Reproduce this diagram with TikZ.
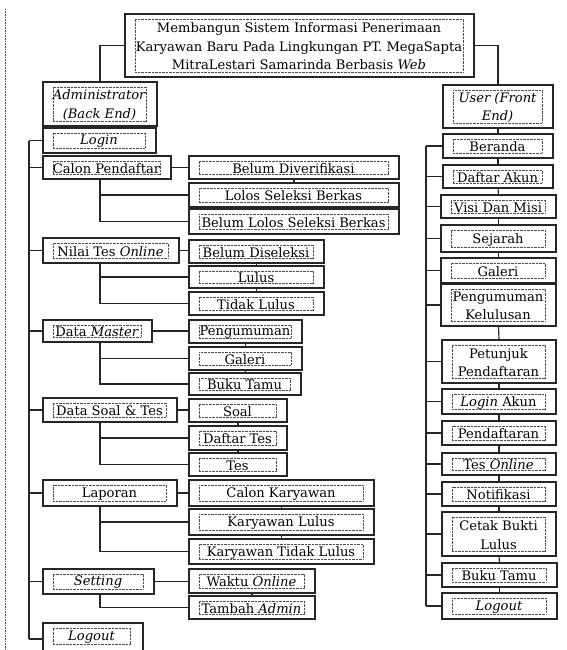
\documentclass[tikz,border=0pt]{standalone}
\usepackage{fontspec}
\setmainfont{DejaVu Serif}
\tikzset{
 obox/.style={draw=black!85, line width=1.15pt, rectangle, inner sep=0pt},
 ibox/.style={draw=black!70, line width=0.7pt, dash pattern=on 0.7pt off 0.7pt, rectangle, inner sep=0pt},
 txt/.style={inner sep=0pt, align=center, font=\fontsize{13.1}{18.5}\selectfont, text=black, yshift=-1pt},
 conn/.style={draw=black!85, line width=1.15pt},
 margin/.style={draw=black!70, line width=0.7pt, dash pattern=on 0.7pt off 0.9pt},
}
\newcommand\mkbox[6]{%
 \node[obox, minimum width={(#4)-(#2)}, minimum height={(#5)-(#3)}] (#1) at ({((#2)+(#4))/2},{((#3)+(#5))/2}) {};
 \node[ibox, minimum width={(#4)-(#2)-21}, minimum height={(#5)-(#3)-10}] (#1-i) at ({((#2)+(#4))/2-0.5},{((#3)+(#5))/2}) {};
 \node[txt] (#1-t) at (#1-i.center) {#6};
}
\begin{document}
\begin{tikzpicture}[x=1pt,y=-1pt]
\useasboundingbox (0,0) rectangle (566,650);
\fill[white] (0,0) rectangle (566,650);
\clip (0,0) rectangle (566,650);
% page margin mark
\coordinate (m1) at (5,9);
\coordinate (m2) at (5,650);
\draw[margin] (m1) -- (m2);
% top
\mkbox{top}{125}{14}{474}{77}{Membangun Sistem Informasi Penerimaan\\Karyawan Baru Pada Lingkungan PT. MegaSapta\\MitraLestari Samarinda Berbasis \textit{Web}}
\mkbox{admin}{43}{82}{157}{126}{\textit{Administrator}\\\textit{(Back End)}}
\mkbox{user}{443}{85}{553}{128}{\textit{User (Front}\\\textit{End)}}
\draw[conn] (top.west) -| (admin.north);
\draw[conn] (top.east) -| (user.north);
% left column
\mkbox{login}{43}{128}{156}{153}{\textit{Login}}
\mkbox{calon}{43}{156}{171}{179}{Calon Pendaftar}
\mkbox{bdiv}{189}{156}{399}{179}{Belum Diverifikasi}
\mkbox{lolos}{189}{183}{399}{207}{Lolos Seleksi Berkas}
\mkbox{blolos}{189}{209}{399}{234}{Belum Lolos Seleksi Berkas}
\mkbox{nilai}{43}{238}{179}{263}{Nilai Tes \textit{Online}}
\mkbox{bdisel}{189}{240}{324}{263}{Belum Diseleksi}
\mkbox{lulus}{189}{266}{324}{288}{Lulus}
\mkbox{tlulus}{189}{292}{324}{315}{Tidak Lulus}
\mkbox{dmaster}{43}{320}{152}{342}{Data \textit{Master}}
\mkbox{peng}{189}{320}{302}{343}{Pengumuman}
\mkbox{gal}{189}{347}{302}{370}{Galeri}
\mkbox{buku}{189}{373}{301}{395}{Buku Tamu}
\mkbox{dsoal}{43}{398}{177}{422}{Data Soal \& Tes}
\mkbox{soal}{189}{399}{287}{422}{Soal}
\mkbox{dtes}{189}{426}{287}{450}{Daftar Tes}
\mkbox{tes}{189}{453}{287}{476}{Tes}
\mkbox{lap}{43}{480}{177}{506}{Laporan}
\mkbox{ck}{189}{480}{374}{506}{Calon Karyawan}
\mkbox{kl}{189}{509}{374}{535}{Karyawan Lulus}
\mkbox{ktl}{189}{539}{374}{564}{Karyawan Tidak Lulus}
\mkbox{set}{43}{569}{154}{594}{\textit{Setting}}
\mkbox{wo}{189}{569}{315}{593}{Waktu \textit{Online}}
\mkbox{ta}{189}{596}{315}{619}{Tambah \textit{Admin}}
\node[obox, minimum width=100, minimum height=32] (logout) at (93,639) {};
\node[ibox, minimum width=77, minimum height=16] (logout-i) at (91.5,636) {};
\node[txt] (logout-t) at (logout-i.center) {\textit{Logout}};
% left trunk
\coordinate (LT) at (29,0);
\coordinate (BX) at (100,0);
\foreach \n in {login,calon,nilai,dmaster,dsoal,lap,set,logout}{\draw[conn] (\n.west) -- (\n.west -| LT);}
\draw[conn] (login.west -| LT) -- (logout.west -| LT);
% sub branches
\draw[conn] (calon.east) -- (calon.east -| bdiv.west);
\draw[conn] (calon.south -| BX) |- (lolos.west);
\draw[conn] (calon.south -| BX) |- (blolos.west);
\draw[conn] (nilai.east) -- (nilai.east -| bdisel.west);
\draw[conn] (nilai.south -| BX) |- (lulus.west);
\draw[conn] (nilai.south -| BX) |- (tlulus.west);
\draw[conn] (dmaster.east) -- (dmaster.east -| peng.west);
\draw[conn] (dmaster.south -| BX) |- (gal.west);
\draw[conn] (dmaster.south -| BX) |- (buku.west);
\draw[conn] (dsoal.east) -- (dsoal.east -| soal.west);
\draw[conn] (dsoal.south -| BX) |- (dtes.west);
\draw[conn] (dsoal.south -| BX) |- (tes.west);
\draw[conn] (lap.east) -- (lap.east -| ck.west);
\draw[conn] (lap.south -| BX) |- (kl.west);
\draw[conn] (lap.south -| BX) |- (ktl.west);
\draw[conn] (set.east) -- (set.east -| wo.west);
\draw[conn] (set.south -| BX) |- (ta.west);
% stack links
\draw[conn] (bdiv.south) -- (lolos.north);
\draw[conn] (lolos.south) -- (blolos.north);
\draw[conn] (bdisel.south) -- (lulus.north);
\draw[conn] (lulus.south) -- (tlulus.north);
\draw[conn] (peng.south) -- (gal.north);
\draw[conn] (gal.south) -- (buku.north);
\draw[conn] (soal.south) -- (dtes.north);
\draw[conn] (dtes.south) -- (tes.north);
\draw[conn] (ck.south) -- (kl.north);
\draw[conn] (kl.south) -- (ktl.north);
\draw[conn] (wo.south) -- (ta.north);
% right column
\mkbox{beranda}{443}{134}{553}{158}{Beranda}
\mkbox{dakun}{443}{165}{553}{188}{Daftar Akun}
\mkbox{visi}{441}{195}{556}{218}{Visi Dan Misi}
\mkbox{sej}{441}{225}{556}{252}{Sejarah}
\mkbox{rgal}{441}{258}{556}{283}{Galeri}
\mkbox{peng2}{441}{284}{556}{326}{Pengumuman\\Kelulusan}
\mkbox{petunjuk}{442}{340}{556}{383}{Petunjuk\\Pendaftaran}
\mkbox{lakun}{442}{389}{556}{414}{\textit{Login} Akun}
\mkbox{pend}{442}{421}{556}{445}{Pendaftaran}
\mkbox{teso}{442}{453}{556}{475}{Tes \textit{Online}}
\mkbox{notif}{442}{482}{556}{506}{Notifikasi}
\mkbox{cetak}{442}{512}{556}{556}{Cetak Bukti\\Lulus}
\mkbox{rbuku}{442}{563}{557}{587}{Buku Tamu}
\mkbox{rlogout}{442}{593}{557}{619}{\textit{Logout}}
\coordinate (RT) at (426,0);
\foreach \n in {beranda,dakun,visi,sej,rgal,peng2,petunjuk,lakun,pend,teso,notif,cetak,rbuku,rlogout}{\draw[conn] (\n.west) -- (\n.west -| RT);}
\draw[conn] (beranda.west -| RT) -- (rlogout.west -| RT);
\draw[conn] (user.south) -- (beranda.north);
\draw[conn] (beranda.south) -- (dakun.north);
\draw[conn] (dakun.south) -- (visi.north);
\draw[conn] (visi.south) -- (sej.north);
\draw[conn] (sej.south) -- (rgal.north);
\draw[conn] (peng2.south) -- (petunjuk.north);
\draw[conn] (petunjuk.south) -- (lakun.north);
\draw[conn] (lakun.south) -- (pend.north);
\draw[conn] (pend.south) -- (teso.north);
\draw[conn] (teso.south) -- (notif.north);
\draw[conn] (notif.south) -- (cetak.north);
\draw[conn] (cetak.south) -- (rbuku.north);
\draw[conn] (rbuku.south) -- (rlogout.north);
\end{tikzpicture}
\end{document}
